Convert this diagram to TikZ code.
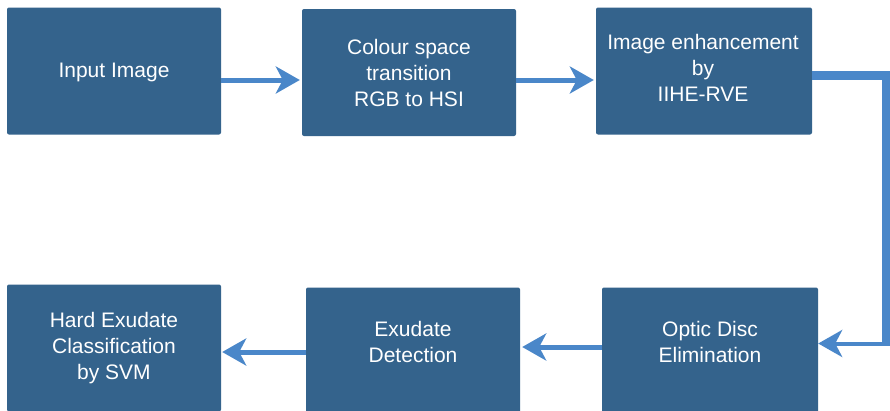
\documentclass[tikz,border=0pt]{standalone}
\usepackage{fontspec}
\setmainfont{Liberation Sans}
\usetikzlibrary{arrows.meta}
\definecolor{boxblue}{RGB}{52,99,140}
\definecolor{arrblue}{RGB}{74,135,201}
\tikzset{
  box/.style={fill=boxblue, draw=none, rounded corners=2pt, minimum width=214pt, minimum height=127pt, inner sep=0pt},
  txt/.style={text=white, align=center, font=\fontsize{21}{26}\selectfont, inner sep=0pt},
  conn/.style={draw=arrblue, line width=5pt, -{Stealth[length=24pt,width=27pt,inset=7pt]}},
}
\begin{document}
\begin{tikzpicture}[x=1pt,y=-1pt]
\fill[white] (0,0) rectangle (890,410);
\useasboundingbox (0,0) rectangle (890,410);
\clip (0,0) rectangle (890,410);
% boxes
\node[box] (inp) at (114,71) {};
\node[box] (col) at (409,72.5) {};
\node[box, minimum width=216pt] (enh) at (704,71) {};
\node[box] (hard) at (114,348) {};
\node[box] (exu) at (413,351) {};
\node[box, minimum width=216pt] (opt) at (710,351) {};
% texts
\node[txt] (inpT) at (114,72) {Input Image};
\node[txt] (colT) at (409,73) {Colour space\\transition\\RGB to HSI};
\node[txt] (enhT) at (703,67.5) {Image enhancement\\by\\IIHE-RVE};
\node[txt] (hardT) at (114,348) {Hard Exudate\\Classification\\by SVM};
\node[txt] (exuT) at (413,342) {Exudate\\Detection};
\node[txt] (optT) at (710,342) {Optic Disc\\Elimination};
% connectors
\draw[conn, shorten >=2pt] ([yshift=-9pt]inp.east) -- ([yshift=-9pt]inp.east -| col.west);
\draw[conn, shorten >=2pt] ([yshift=-7.5pt]col.east) -- ([yshift=-7.5pt]col.east -| enh.west);
\draw[conn, shorten >=1pt] ([yshift=-1pt]exu.west) -- ([yshift=-1pt]exu.west -| hard.east);
\draw[conn, shorten >=2pt] ([yshift=4pt]opt.west) -- ([yshift=4pt]opt.west -| exu.east);
\coordinate (c1) at (886,75);
\coordinate (c2) at (886,343.5);
\draw[arrblue, line width=9pt] ([yshift=-4pt]enh.east) -- (c1) -- ([yshift=-2pt]c2);
\draw[conn, line width=4pt] ([xshift=4.5pt]c2) -- (c2 -| opt.east);
\end{tikzpicture}
\end{document}
